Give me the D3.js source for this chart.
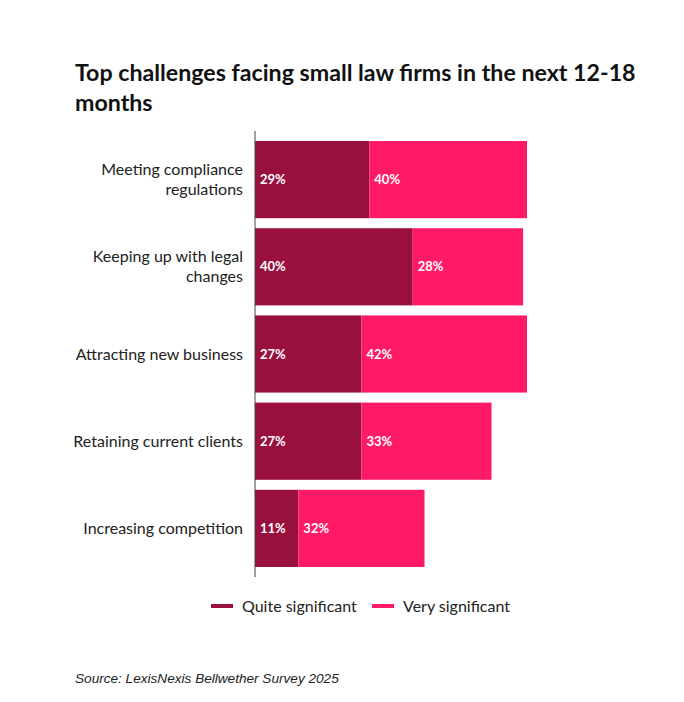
<!DOCTYPE html>
<html>
<head>
<meta charset="utf-8">
<script src="https://cdn.jsdelivr.net/npm/d3@7"></script>
<style>
  body { margin: 0; background: #fff; }
  svg text { font-family: Lato, sans-serif; }
</style>
</head>
<body>
<div id="chart"></div>
<script>
var categories = [
  ['Meeting compliance', 'regulations'],
  ['Keeping up with legal', 'changes'],
  ['Attracting new business'],
  ['Retaining current clients'],
  ['Increasing competition']
];
var quiteValues = [29, 40, 27, 27, 11];
var veryValues = [40, 28, 42, 33, 32];
var seriesNames = ['Quite significant', 'Very significant'];
var colors = ['#990f3d', '#ff1a66'];

var width = 684, height = 702;

var svg = d3.select('#chart').append('svg')
  .attr('width', width)
  .attr('height', height);

// title
var title = svg.append('text')
  .attr('x', 75)
  .attr('y', 81)
  .style('font-size', '23.2px')
  .style('font-weight', 'bold')
  .style('fill', '#111');
title.append('tspan').attr('x', 75).text('Top challenges facing small law firms in the next 12-18');
title.append('tspan').attr('x', 75).attr('dy', 30).text('months');

var rows = categories.map(function(c, i) {
  return { label: c, idx: i, quite: quiteValues[i], very: veryValues[i] };
});

var y = d3.scaleBand()
  .domain(d3.range(categories.length))
  .range([131, 577])
  .paddingInner(0.115)
  .paddingOuter(0.115);

var x = d3.scaleLinear()
  .domain([0, 69])
  .range([255, 527]);

var g = svg.append('g');

// quite significant
g.selectAll('rect.quite')
  .data(rows)
  .enter()
  .append('rect')
  .attr('class', 'quite')
  .attr('x', x(0))
  .attr('y', function(d) { return y(d.idx); })
  .attr('width', function(d) { return x(d.quite) - x(0); })
  .attr('height', y.bandwidth())
  .style('fill', colors[0]);

// very significant
g.selectAll('rect.very')
  .data(rows)
  .enter()
  .append('rect')
  .attr('class', 'very')
  .attr('x', function(d) { return x(d.quite); })
  .attr('y', function(d) { return y(d.idx); })
  .attr('width', function(d) { return x(d.quite + d.very) - x(d.quite); })
  .attr('height', y.bandwidth())
  .style('fill', colors[1]);

// value labels
g.selectAll('text.lq')
  .data(rows)
  .enter()
  .append('text')
  .attr('x', x(0) + 5)
  .attr('y', function(d) { return y(d.idx) + y.bandwidth() / 2; })
  .attr('dy', '0.35em')
  .style('font-size', '13px')
  .style('font-weight', 'bold')
  .style('fill', '#fff')
  .text(function(d) { return d.quite + '%'; });

g.selectAll('text.lv')
  .data(rows)
  .enter()
  .append('text')
  .attr('x', function(d) { return x(d.quite) + 5; })
  .attr('y', function(d) { return y(d.idx) + y.bandwidth() / 2; })
  .attr('dy', '0.35em')
  .style('font-size', '13px')
  .style('font-weight', 'bold')
  .style('fill', '#fff')
  .text(function(d) { return d.very + '%'; });

// category labels
var cat = g.selectAll('text.cat')
  .data(rows)
  .enter()
  .append('text')
  .attr('text-anchor', 'end')
  .attr('y', function(d) { return y(d.idx) + y.bandwidth() / 2 - (d.label.length - 1) * 10; })
  .style('font-size', '16px')
  .style('fill', '#222');
cat.each(function(d) {
  var t = d3.select(this);
  d.label.forEach(function(line, i) {
    t.append('tspan').attr('x', 243).attr('dy', i === 0 ? '0.35em' : 20).text(line);
  });
});

// axis line
svg.append('line')
  .attr('x1', x(0)).attr('x2', x(0))
  .attr('y1', 131).attr('y2', 577)
  .style('stroke', '#444')
  .style('stroke-width', 1);

// legend
var legendX = [211, 372];
var legend = svg.selectAll('g.legend')
  .data(seriesNames)
  .enter()
  .append('g')
  .attr('transform', function(d, i) { return 'translate(' + legendX[i] + ',606)'; });
legend.append('line')
  .attr('x1', 0).attr('x2', 22)
  .style('stroke', function(d, i) { return colors[i]; })
  .style('stroke-width', 4);
legend.append('text')
  .attr('x', 31)
  .attr('dy', '0.35em')
  .style('font-size', '16px')
  .style('fill', '#222')
  .text(function(d) { return d; });

// source
svg.append('text')
  .attr('x', 75)
  .attr('y', 683)
  .style('font-family', '"Liberation Sans", Arial, sans-serif')
  .style('font-style', 'italic')
  .style('font-size', '13.6px')
  .style('fill', '#222')
  .text('Source: LexisNexis Bellwether Survey 2025');
</script>
</body>
</html>
